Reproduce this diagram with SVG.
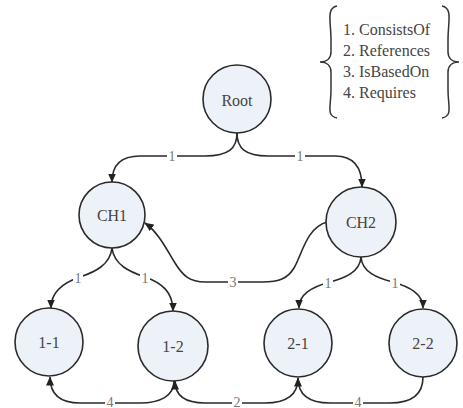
<svg xmlns="http://www.w3.org/2000/svg" width="463" height="408" viewBox="0 0 463 408">
  <defs>
    <marker id="arrow" markerWidth="9" markerHeight="8" refX="8.5" refY="4" orient="auto" markerUnits="userSpaceOnUse">
      <path d="M0,0 L9,4 L0,8 Z" fill="#222"/>
    </marker>
    <style>
      text { font-family: "Liberation Serif", "Times New Roman", serif; }
      .node circle { fill: #edf2f9; stroke: #2a2a2a; stroke-width: 1.6; }
      .node text { font-size: 16px; fill: #444; text-anchor: middle; dominant-baseline: central; }
      .edge { fill: none; stroke: #2a2a2a; stroke-width: 1.6; }
      .lbl-bg { fill: #ffffff; }
      .lbl { font-size: 14px; fill: #777; text-anchor: middle; dominant-baseline: central; }
      .legend text { font-size: 16px; fill: #444; }
      .brace { fill: none; stroke: #333; stroke-width: 1.5; }
    </style>
  </defs>

  <rect width="463" height="408" fill="#ffffff"/>

  <!-- relation legend -->
  <g id="legend" class="legend">
    <path class="brace" d="M337,6 C326,8 331,22 331,40 L331,52 C331,58 327,62 320,62 C327,62 331,66 331,72 L331,90 C331,106 326,116 337,118"/>
    <path class="brace" d="M442,6 C453,8 448,22 448,40 L448,52 C448,58 452,62 459,62 C452,62 448,66 448,72 L448,90 C448,106 453,116 442,118"/>
    <text x="343" y="35">1. ConsistsOf</text>
    <text x="343" y="56">2. References</text>
    <text x="343" y="77">3. IsBasedOn</text>
    <text x="343" y="98">4. Requires</text>
  </g>

  <!-- connectors -->
  <g id="connectors">
    <path class="edge" marker-end="url(#arrow)" d="M237,133 C237,148 229,156 205,156 L140,156 C120,156 112,166 112,182"/>
    <path class="edge" marker-end="url(#arrow)" d="M237,133 C237,148 245,156 268,156 L335,156 C352,156 362,166 362,187"/>
    <path class="edge" marker-end="url(#arrow)" d="M327,222 C306,228 302,255 294,268 C288,278 280,282 262,282 L205,282 C190,282 183,276 175,263 C167,250 158,232 145,223"/>
    <path class="edge" marker-end="url(#arrow)" d="M112,248 C110,265 95,272 80,277 C62,283 51,292 51,308"/>
    <path class="edge" marker-end="url(#arrow)" d="M112,248 C114,265 130,272 145,277 C162,283 173,292 173,311"/>
    <path class="edge" marker-end="url(#arrow)" d="M361,257 C360,272 345,278 330,282 C312,287 299,294 299,308"/>
    <path class="edge" marker-end="url(#arrow)" d="M361,257 C362,272 377,278 393,282 C410,287 423,294 423,308"/>
    <path class="edge" marker-end="url(#arrow)" d="M174,381 C174,396 160,403 140,403 L80,403 C62,403 50,396 50,377"/>
    <path class="edge" marker-end="url(#arrow)" d="M298,378 C298,396 285,403 265,403 L205,403 C185,403 175,396 175,381"/>
    <path class="edge" marker-end="url(#arrow)" d="M423,377 C423,396 410,403 390,403 L330,403 C310,403 298,396 298,378"/>

    <!-- edge labels -->
    <rect class="lbl-bg" x="167" y="149" width="10" height="14"/><text class="lbl" x="172" y="156">1</text>
    <rect class="lbl-bg" x="295" y="149" width="10" height="14"/><text class="lbl" x="300" y="156">1</text>
    <rect class="lbl-bg" x="228" y="275" width="10" height="14"/><text class="lbl" x="233" y="282">3</text>
    <rect class="lbl-bg" x="73" y="271" width="10" height="14"/><text class="lbl" x="78" y="278">1</text>
    <rect class="lbl-bg" x="140" y="271" width="10" height="14"/><text class="lbl" x="145" y="278">1</text>
    <rect class="lbl-bg" x="323" y="276" width="10" height="14"/><text class="lbl" x="328" y="283">1</text>
    <rect class="lbl-bg" x="390" y="276" width="10" height="14"/><text class="lbl" x="395" y="283">1</text>
    <rect class="lbl-bg" x="105" y="396" width="10" height="12"/><text class="lbl" x="110" y="402">4</text>
    <rect class="lbl-bg" x="232" y="396" width="10" height="12"/><text class="lbl" x="237" y="402">2</text>
    <rect class="lbl-bg" x="353" y="396" width="10" height="12"/><text class="lbl" x="358" y="402">4</text>
  </g>

  <!-- nodes -->
  <g id="root" class="node"><circle cx="237" cy="99" r="34"/><text x="237" y="100">Root</text></g>
  <g id="ch1" class="node"><circle cx="112" cy="215" r="33"/><text x="112" y="215">CH1</text></g>
  <g id="ch2" class="node"><circle cx="361" cy="222" r="35"/><text x="361" y="222">CH2</text></g>
  <g id="n1-1" class="node"><circle cx="49" cy="342" r="34"/><text x="49" y="342">1-1</text></g>
  <g id="n1-2" class="node"><circle cx="173" cy="346" r="35"/><text x="173" y="346">1-2</text></g>
  <g id="n2-1" class="node"><circle cx="298" cy="343" r="34"/><text x="298" y="343">2-1</text></g>
  <g id="n2-2" class="node"><circle cx="423" cy="343" r="34"/><text x="423" y="343">2-2</text></g>
</svg>
